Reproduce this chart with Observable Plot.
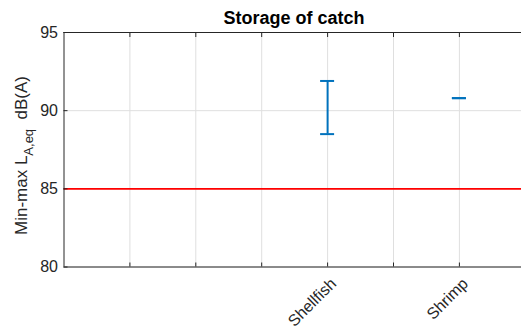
<!DOCTYPE html>
<html>
<head>
<meta charset="utf-8">
<script src="https://cdn.jsdelivr.net/npm/d3@7"></script>
<script src="https://cdn.jsdelivr.net/npm/@observablehq/plot@0.6"></script>
<style>
  html, body { margin: 0; padding: 0; background: #fff; }
  svg { font-family: "Liberation Sans", Arial, sans-serif; }
</style>
</head>
<body>
<div id="chart"></div>
<script>
// Noise levels measured while storing the catch (min-max LA,eq, dB(A))
const title = "Storage of catch";
const tickPositions = [1, 2, 3, 4, 5, 6];
const tickLabels = ["", "", "", "Shellfish", "", "Shrimp"];
const categories = ["Shellfish", "Shrimp"];
const categoryPos = [4, 6];
const minLevel = [88.5, 90.8];
const maxLevel = [91.9, 90.8];
const exposureLimit = 85;
const yTicks = [80, 85, 90, 95];

const data = categories.map((c, i) => ({
  name: c, pos: categoryPos[i], min: minLevel[i], max: maxLevel[i]
}));

const W = 521, H = 333;
const mLeft = 63.5, mTop = 32, mBottom = 66.5;
const step = 65.9;          // pixel width of one x unit
const cap = 7 / step;       // half-width of error bar caps, in x units
const ink = "#262626";
const blue = "#0072BD";
const grid = "#dfdfdf";

const chart = Plot.plot({
  width: W,
  height: H,
  marginLeft: mLeft,
  marginRight: 0,
  marginTop: mTop,
  marginBottom: mBottom,
  style: { fontSize: "16px", fontFamily: "'Liberation Sans', Arial, sans-serif", color: ink, overflow: "hidden" },
  x: { domain: [0, 7], range: [mLeft, mLeft + 7 * step] },
  y: { domain: [80, 95] },
  marks: [
    // grid
    Plot.ruleX(tickPositions, { stroke: grid, strokeWidth: 1 }),
    Plot.ruleY(yTicks, { stroke: grid, strokeWidth: 1 }),
    // exposure limit
    Plot.ruleY([exposureLimit], { stroke: "#ff0000", strokeWidth: 1.6 }),
    // min-max bars with caps
    Plot.ruleX(data, { x: "pos", y1: "min", y2: "max", stroke: blue, strokeWidth: 2 }),
    Plot.ruleY(data, { y: "max", x1: d => d.pos - cap, x2: d => d.pos + cap, stroke: blue, strokeWidth: 2 }),
    Plot.ruleY(data, { y: "min", x1: d => d.pos - cap, x2: d => d.pos + cap, stroke: blue, strokeWidth: 2 }),
    // box
    Plot.ruleY([80, 95], { stroke: ink, strokeWidth: 1 }),
    Plot.ruleX([0], { stroke: ink, strokeWidth: 1 }),
    // axes
    Plot.axisY({ ticks: yTicks, tickSize: 0, tickPadding: 6, label: null, color: ink, fontSize: 16 }),
    Plot.axisY({ ticks: yTicks, tickSize: -4, text: null, label: null, stroke: ink }),
    Plot.axisX({ ticks: tickPositions, tickSize: -4, text: null, label: null, stroke: ink }),
    Plot.axisX({ anchor: "top", ticks: tickPositions, tickSize: -4, text: null, label: null, stroke: ink }),
    Plot.axisX({
      ticks: tickPositions,
      tickFormat: (d, i) => tickLabels[i],
      tickSize: 0,
      tickPadding: 6,
      tickRotate: -45,
      dx: 6,
      dy: 8,
      label: null,
      fontSize: 16,
      color: ink
    })
  ]
});

const svg = d3.select(chart);

// title
svg.append("text")
  .attr("x", 294)
  .attr("y", 24)
  .attr("text-anchor", "middle")
  .attr("font-weight", "bold")
  .attr("font-size", 18)
  .attr("fill", "#000")
  .text(title);

// y-axis label with subscript, running upward from its start
const yl = svg.append("text")
  .attr("transform", "translate(27,235) rotate(-90)")
  .attr("text-anchor", "start")
  .attr("font-size", 17)
  .attr("fill", ink);
yl.append("tspan").text("Min-max L");
yl.append("tspan").attr("font-size", 13).attr("dy", 6).text("A,eq");
yl.append("tspan").attr("dy", -6).text("\u00a0\u00a0dB(A)");

document.getElementById("chart").appendChild(chart);
</script>
</body>
</html>
